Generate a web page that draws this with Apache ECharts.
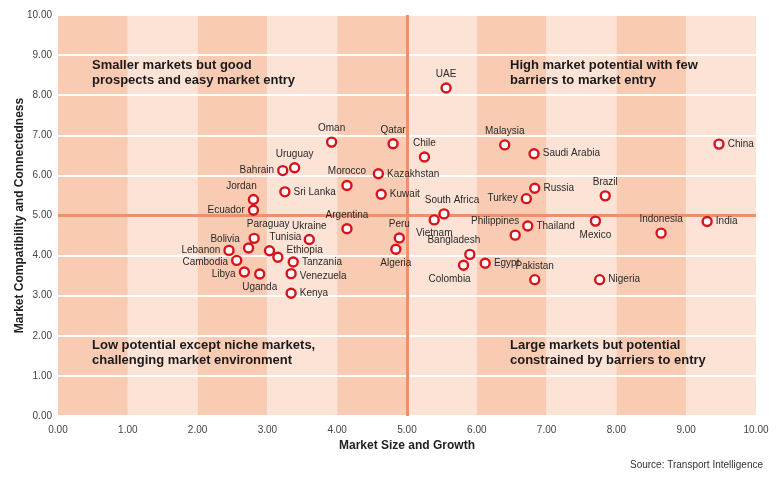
<!DOCTYPE html>
<html>
<head>
<meta charset="utf-8">
<script src="https://cdn.jsdelivr.net/npm/echarts@6/dist/echarts.min.js"></script>
<style>
html,body{margin:0;padding:0;background:#fff;}
#chart{width:777px;height:477px;}
</style>
</head>
<body>
<div id="chart"></div>
<script>
// ---- Data ----
const countries = ["Oman","Qatar","Chile","Uruguay","Bahrain","Morocco","Kazakhstan","Kuwait","Sri Lanka","Jordan","Ecuador","Argentina","Paraguay","Ukraine","Bolivia","Lebanon","Tunisia","Ethiopia","Cambodia","Tanzania","Libya","Uganda","Venezuela","Kenya","Peru","Algeria","Vietnam","South Africa","UAE","Malaysia","Saudi Arabia","Russia","Turkey","Brazil","Thailand","Philippines","Mexico","Bangladesh","Colombia","Egypt","Pakistan","Nigeria","China","Indonesia","India"];
const marketSize = [3.92,4.80,5.25,3.39,3.22,4.14,4.59,4.63,3.25,2.80,2.80,4.14,2.81,3.60,2.73,2.45,3.03,3.15,2.56,3.37,2.67,2.89,3.34,3.34,4.89,4.84,5.39,5.53,5.56,6.40,6.82,6.83,6.71,7.84,6.73,6.55,7.70,5.90,5.81,6.12,6.83,7.76,9.47,8.64,9.30];
const compatibility = [6.83,6.79,6.46,6.19,6.12,5.75,6.04,5.53,5.59,5.40,5.13,4.67,4.43,4.40,4.19,4.13,4.12,3.96,3.88,3.84,3.59,3.54,3.55,3.06,4.44,4.16,4.89,5.04,8.18,6.76,6.54,5.68,5.42,5.49,4.74,4.51,4.86,4.03,3.76,3.81,3.40,3.40,6.78,4.56,4.85];
const xTicks = [0,1,2,3,4,5,6,7,8,9,10];
const yTicks = [0,1,2,3,4,5,6,7,8,9,10];
const quadrantTexts = [
  "Smaller markets but good\nprospects and easy market entry",
  "High market potential with few\nbarriers to market entry",
  "Low potential except niche markets,\nchallenging market environment",
  "Large markets but potential\nconstrained by barriers to entry"
];
const midX = 5, midY = 5;

// ---- Label placement (style) ----
const labelStyle = {
  "Oman":["top",[0,0]],"Qatar":["top",[0,0]],"Chile":["top",[0,0]],"Uruguay":["top",[0,0]],
  "Bahrain":["left",[0,0]],"Morocco":["top",[0,0]],"Kazakhstan":["right",[0,0]],"Kuwait":["right",[0,0]],
  "Sri Lanka":["right",[0,0]],"Jordan":["top",[-12,0]],"Ecuador":["left",[0,0]],"Argentina":["top",[0,0]],
  "Paraguay":["top",[14,0]],"Ukraine":["top",[0,0]],"Bolivia":["left",[0,-9]],"Lebanon":["left",[0,0]],
  "Tunisia":["top",[16,0]],"Ethiopia":["right",[0,-7]],"Cambodia":["left",[0,2]],"Tanzania":["right",[0,0]],
  "Libya":["left",[0,2]],"Uganda":["bottom",[0,0]],"Venezuela":["right",[0,3]],"Kenya":["right",[0,0]],
  "Peru":["top",[0,0]],"Algeria":["bottom",[0,0]],"Vietnam":["bottom",[0,0]],"South Africa":["top",[8,0]],
  "UAE":["top",[0,0]],"Malaysia":["top",[0,0]],"Saudi Arabia":["right",[0,0]],"Russia":["right",[0,0]],
  "Turkey":["left",[0,0]],"Brazil":["top",[0,0]],"Thailand":["right",[0,0]],"Philippines":["top",[-20,0]],
  "Mexico":["bottom",[0,0]],"Bangladesh":["top",[-16,0]],"Colombia":["bottom",[-14,0]],"Egypt":["right",[0,0]],
  "Pakistan":["top",[0,0]],"Nigeria":["right",[0,0]],"China":["right",[0,0]],"Indonesia":["top",[0,0]],"India":["right",[0,0]]
};

const labelFont = '"Liberation Sans", Arial, sans-serif';
const points = countries.map((c, i) => {
  const ls = labelStyle[c] || ["right",[0,0]];
  return {
    name: c,
    value: [marketSize[i], compatibility[i]],
    label: { position: ls[0], offset: ls[1] }
  };
});

const qStyle = (t) => ({ text: t, fontFamily: '"Liberation Sans", Arial, sans-serif', fontWeight: 'bold', fontSize: 13, fill: '#1a1a1a', lineHeight: 15 });

const chart = echarts.init(document.getElementById('chart'), null, {renderer:'canvas'});
const option = {
  backgroundColor: '#ffffff',
  animation: false,
  grid: { left: 58, right: 21, top: 15, bottom: 61, containLabel: false, outerBoundsMode: 'none' },
  xAxis: {
    type: 'value', min: xTicks[0], max: xTicks[xTicks.length-1], interval: 1, z: 0,
    name: 'Market Size and Growth', nameLocation: 'middle', nameGap: 24, nameMoveOverlap: false,
    nameTextStyle: { fontFamily: labelFont, fontWeight: 'bold', fontSize: 12, color: '#222' },
    axisLine: { show: false }, axisTick: { show: false },
    axisLabel: { formatter: v => v.toFixed(2), fontFamily: labelFont, fontSize: 10, color: '#444', margin: 9 },
    splitLine: { show: false },
    splitArea: { show: true, areaStyle: { color: ['#f9cbb3', '#fce3d6'] } }
  },
  yAxis: {
    type: 'value', min: yTicks[0], max: yTicks[yTicks.length-1], interval: 1, z: 2,
    name: 'Market Compatibility and Connectedness', nameLocation: 'middle', nameGap: 32, nameMoveOverlap: false,
    nameTextStyle: { fontFamily: labelFont, fontWeight: 'bold', fontSize: 12, color: '#222' },
    axisLine: { show: false }, axisTick: { show: false },
    axisLabel: { formatter: v => v.toFixed(2), fontFamily: labelFont, fontSize: 10, color: '#444', margin: 6 },
    splitLine: { show: true, lineStyle: { color: '#ffffff', width: 2 } }
  },
  graphic: [
    { type: 'text', left: 92, top: 58, z: 10, style: qStyle(quadrantTexts[0]) },
    { type: 'text', left: 510, top: 58, z: 10, style: qStyle(quadrantTexts[1]) },
    { type: 'text', left: 92, top: 338, z: 10, style: qStyle(quadrantTexts[2]) },
    { type: 'text', left: 510, top: 338, z: 10, style: qStyle(quadrantTexts[3]) },
    { type: 'text', right: 14, top: 460, z: 10, style: { text: 'Source: Transport Intelligence', fontFamily: labelFont, fontSize: 10, fill: '#333' } }
  ],
  series: [{
    type: 'scatter',
    data: points,
    symbol: 'circle',
    symbolSize: 9,
    itemStyle: { color: '#ffffff', borderColor: '#d7141c', borderWidth: 2.4, opacity: 1 },
    label: { show: true, formatter: p => p.name, fontFamily: labelFont, fontSize: 10, color: '#2a2a2a', distance: 3 },
    emphasis: { disabled: true },
    markLine: {
      silent: true, symbol: 'none', label: { show: false },
      lineStyle: { color: '#f0906a', width: 3, type: 'solid' },
      data: [ { xAxis: midX }, { yAxis: midY } ]
    },
    z: 5
  }]
};
chart.setOption(option);
</script>
</body>
</html>
